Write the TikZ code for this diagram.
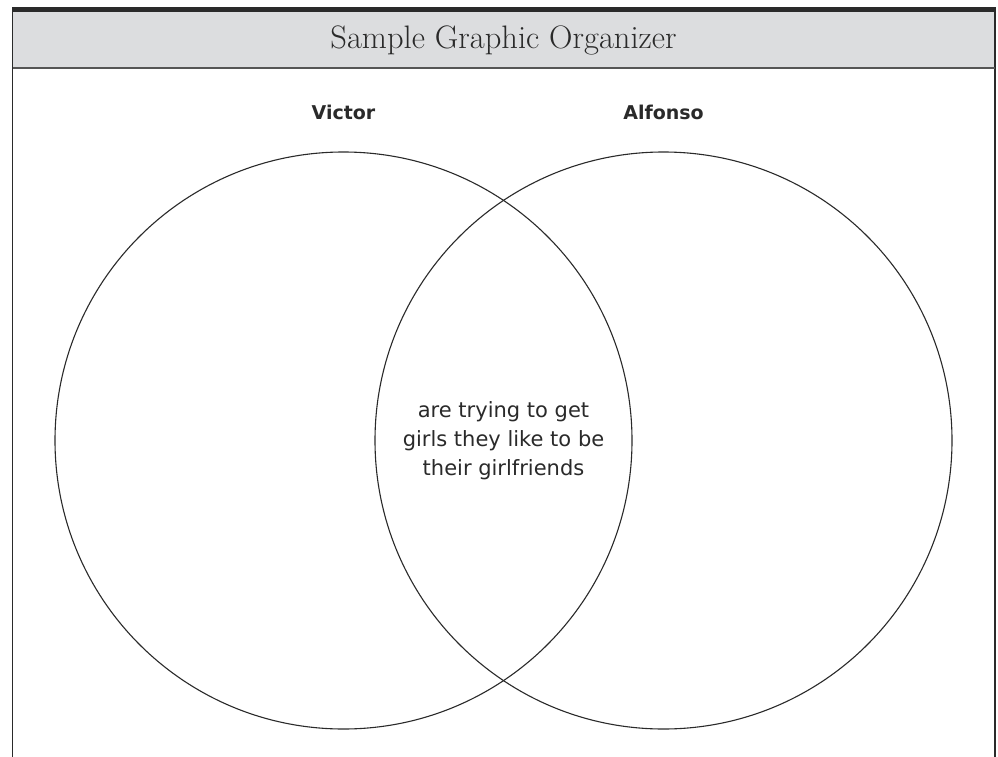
\documentclass[tikz,border=0pt]{standalone}
\usepackage{fontspec}
\newfontfamily\labelfont{DejaVu Sans}
\newfontfamily\handfont{DejaVu Sans}
\definecolor{hdrgray}{HTML}{DCDDDF}
\definecolor{ink}{HTML}{2A2A2A}
\begin{document}
\begin{tikzpicture}[x=1pt,y=-1pt,
  frameline/.style={draw=ink,line width=1.6pt},
  circleline/.style={draw=ink,line width=1.1pt},
  namelabel/.style={font=\labelfont\bfseries\fontsize{19}{22}\selectfont,text=ink},
  middletext/.style={font=\handfont\fontsize{21}{29}\selectfont,text=ink,align=center}]
\useasboundingbox (0,0) rectangle (998,757);
\fill[white] (0,0) rectangle (998,757);
% header band
\fill[hdrgray] (12.5,12) rectangle (995,68);
\fill[ink] (12,7) rectangle (996,12);
\draw[frameline] (12.5,12) -- (12.5,757);
\draw[frameline] (995,12) -- (995,757);
\draw[draw=ink!80,line width=1.6pt] (12.5,68) -- (995,68);
\node[font=\fontsize{32.5}{38}\selectfont,text=ink] (title) at (503.5,40) {Sample Graphic Organizer};
% circles
\node[circle,circleline,minimum size=577pt,inner sep=0pt] (victor) at (343.5,440.5) {};
\node[circle,circleline,minimum size=577pt,inner sep=0pt] (alfonso) at (663.5,440.5) {};
\node[namelabel] (vlabel) at (343.5,112) {Victor};
\node[namelabel] (alabel) at (663.5,112) {Alfonso};
\node[middletext] (both) at (503.5,441) {are trying to get\\girls they like to be\\their girlfriends};
\end{tikzpicture}
\end{document}
